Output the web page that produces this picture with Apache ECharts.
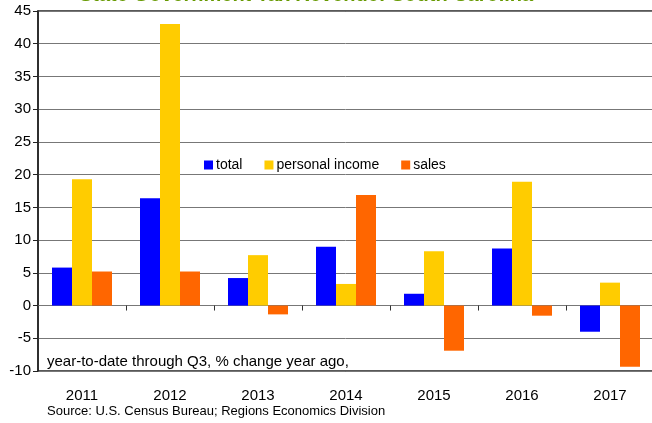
<!DOCTYPE html>
<html>
<head>
<meta charset="utf-8">
<script src="https://cdn.jsdelivr.net/npm/echarts@6/dist/echarts.min.js"></script>
<style>
  html, body { margin: 0; padding: 0; background: #fff; }
  #chart { width: 652px; height: 423px; }
</style>
</head>
<body>
<div id="chart"></div>
<script>
// year-to-date through Q3, % change year ago
var years = ['2011', '2012', '2013', '2014', '2015', '2016', '2017'];
var total = [5.8, 16.4, 4.2, 9.0, 1.8, 8.7, -4.0];
var personalIncome = [19.3, 43.0, 7.7, 3.3, 8.3, 18.9, 3.5];
var sales = [5.2, 5.2, -1.35, 16.9, -6.9, -1.55, -9.35];
var yTicks = { min: -10, max: 45, step: 5 };

var font = '"Liberation Sans", Arial, sans-serif';
var chart = echarts.init(document.getElementById('chart'));

function bar(name, data, color) {
    return {
        name: name, type: 'bar', data: data,
        xAxisIndex: 0, barWidth: 20, barGap: '0%',
        itemStyle: { color: color },
        emphasis: { disabled: true }
    };
}

chart.setOption({
    animation: false,
    color: ['#0000ff', '#ffcc00', '#ff6600'],
    graphic: [
        { type: 'text', left: 79, top: -15, style: { text: 'State Government Tax Revenue: South Carolina', font: 'bold 20px ' + font, fill: '#669900' } },
        { type: 'text', left: 47, top: 354, style: { text: 'year-to-date through Q3, % change year ago,', font: '15px ' + font, fill: '#000' } },
        { type: 'text', left: 47, top: 405, style: { text: 'Source: U.S. Census Bureau; Regions Economics Division', font: '13px ' + font, fill: '#000' } }
    ],
    legend: {
        left: 199, top: 153,
        icon: 'rect', itemWidth: 9, itemHeight: 9, itemGap: 22,
        textStyle: { fontFamily: font, fontSize: 14, color: '#000', padding: [0, 0, 0, -2] },
        data: ['total', 'personal income', 'sales']
    },
    grid: {
        left: 38, right: -2, top: 11, bottom: 52,
        outerBoundsMode: 'none',
        show: true, borderColor: '#222', borderWidth: 1.5
    },
    xAxis: [
        {
            type: 'category', data: years, position: 'bottom',
            axisLine: { onZero: true, lineStyle: { color: '#777', width: 1 } },
            axisTick: { show: true, length: 5, lineStyle: { color: '#333' } },
            axisLabel: { show: false }
        },
        {
            type: 'category', data: years, position: 'bottom',
            axisLine: { show: false, onZero: false },
            axisTick: { show: false },
            axisLabel: { fontFamily: font, fontSize: 15, color: '#000', margin: 17 }
        }
    ],
    yAxis: {
        type: 'value', min: yTicks.min, max: yTicks.max, interval: yTicks.step,
        axisLine: { show: true, lineStyle: { color: '#222', width: 1.5 } },
        axisTick: { show: true, length: 5, lineStyle: { color: '#222' } },
        axisLabel: { fontFamily: font, fontSize: 15, color: '#000', margin: 7 },
        splitLine: { lineStyle: { color: '#777', width: 1 } }
    },
    series: [
        bar('total', total, '#0000ff'),
        bar('personal income', personalIncome, '#ffcc00'),
        bar('sales', sales, '#ff6600')
    ]
});
</script>
</body>
</html>
